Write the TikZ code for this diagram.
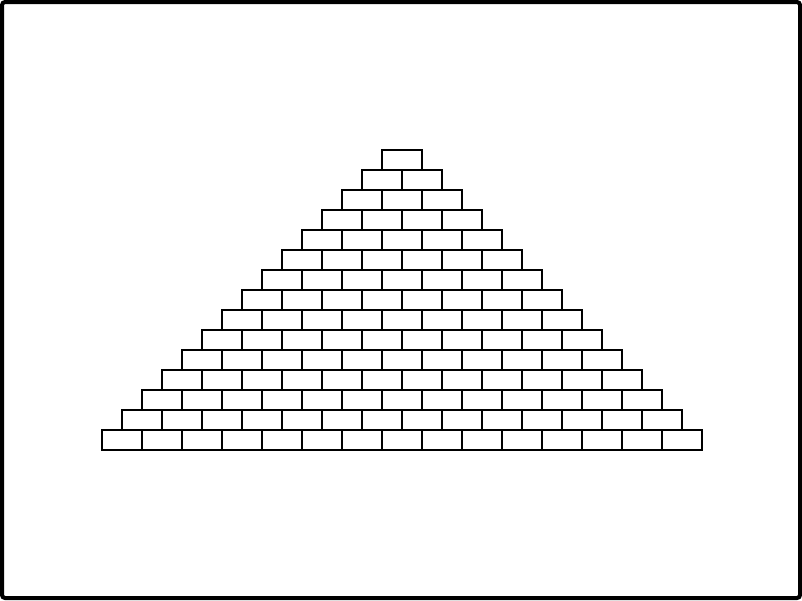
\documentclass[tikz,border=0pt]{standalone}
\tikzset{brick/.style={draw=black,line width=1.5pt,fill=white},frame/.style={draw=black,line width=4pt,rounded corners=3pt}}
\begin{document}
\begin{tikzpicture}[x=1pt,y=-1pt]
\useasboundingbox (0,0) rectangle (802,600);
\draw[frame] (2,2) rectangle (800,598);
% pyramid rows, top to bottom
\foreach \r in {0,...,14}{\foreach \b in {0,...,\r}{\draw[brick] ({382-20*\r+40*\b},{150+20*\r}) rectangle ++(40,20);}}
\end{tikzpicture}
\end{document}
